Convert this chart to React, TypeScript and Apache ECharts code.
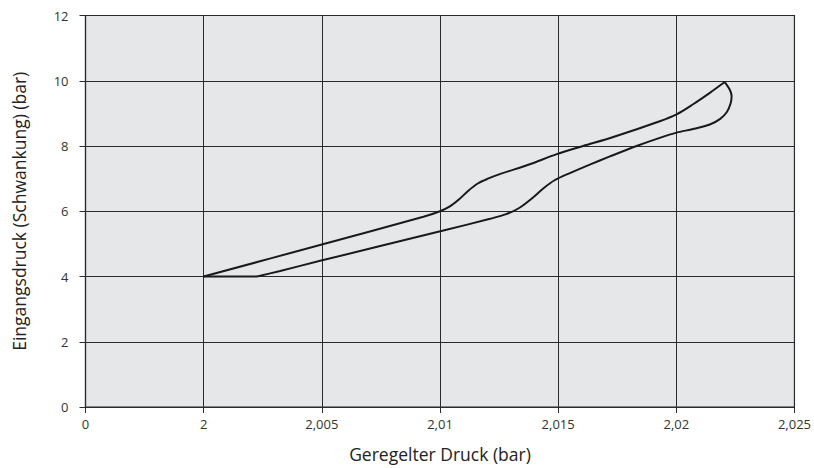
import React, { useEffect, useRef } from "react";
import * as echarts from "echarts";

// Upper branch: from start (2 bar, 4 bar) up to the tip
const upperX = [2.0, 2.005, 2.0093, 2.01, 2.0104, 2.0108, 2.0112, 2.0116, 2.012, 2.0125, 2.0138, 2.01494, 2.01606, 2.01727, 2.0193, 2.02001, 2.02071, 2.02142, 2.02205];
const upperY = [4.0, 4.98, 5.83, 6.0, 6.14, 6.36, 6.63, 6.85, 6.99, 7.13, 7.44, 7.75, 8.0, 8.26, 8.76, 8.97, 9.28, 9.63, 9.96];

// Lower branch: from the tip back down to the flat start segment
const lowerX = [2.02205, 2.02226, 2.02234, 2.0223, 2.02214, 2.02186, 2.02142, 2.02071, 2.02001, 2.0193, 2.01832, 2.01719, 2.01634, 2.0155, 2.01485, 2.01437, 2.01395, 2.01335, 2.0128, 2.01212, 2.0101, 2.00493, 2.00324, 2.00226];
const lowerY = [9.96, 9.73, 9.53, 9.31, 9.04, 8.83, 8.66, 8.52, 8.41, 8.25, 8.0, 7.68, 7.43, 7.17, 6.95, 6.7, 6.43, 6.1, 5.91, 5.77, 5.4, 4.48, 4.17, 4.0];

// Flat segment at 4 bar
const flatX = [2.00226, 2.0];
const flatY = [4.0, 4.0];

const xTickLabels: Record<string, string> = {
  "1.995": "0",
  "2": "2",
  "2.005": "2,005",
  "2.01": "2,01",
  "2.015": "2,015",
  "2.02": "2,02",
  "2.025": "2,025",
};

const xName = "Geregelter Druck (bar)";
const yName = "Eingangsdruck (Schwankung) (bar)";

const FONT = "'Open Sans', 'DejaVu Sans', sans-serif";

export default function App() {
  const ref = useRef<HTMLDivElement>(null);

  useEffect(() => {
    if (!ref.current) return;
    const chart = echarts.init(ref.current, undefined, { renderer: "svg" });
    const zip = (xs: number[], ys: number[]) => xs.map((x, i) => [x, ys[i]]);
    const lineStyle = { color: "#1a1a1a", width: 2 };
    chart.setOption({
      animation: false,
      backgroundColor: "#ffffff",
      grid: {
        left: 85.5,
        right: 19,
        top: 15.5,
        bottom: 60,
        show: true,
        backgroundColor: "#e6e7e9",
        borderColor: "#2b2b2b",
        borderWidth: 1.2,
      },
      xAxis: {
        type: "value",
        min: 1.995,
        max: 2.025,
        interval: 0.005,
        name: xName,
        nameLocation: "middle",
        nameGap: 38,
        nameTextStyle: { fontFamily: FONT, fontSize: 17.5, color: "#222" },
        axisLine: { show: true, onZero: false, lineStyle: { color: "#2b2b2b", width: 1.2 } },
        axisTick: { show: true, length: 6, lineStyle: { color: "#2b2b2b" } },
        axisLabel: {
          fontFamily: FONT,
          fontSize: 13,
          color: "#333",
          margin: 10,
          formatter: (v: number) => {
            const key = String(Number(v.toFixed(3)));
            return xTickLabels[key] ?? key.replace(".", ",");
          },
        },
        splitLine: { show: true, lineStyle: { color: "#2b2b2b", width: 1 } },
      },
      yAxis: {
        type: "value",
        min: 0,
        max: 12,
        interval: 2,
        name: yName,
        nameLocation: "middle",
        nameGap: 58,
        nameTextStyle: { fontFamily: FONT, fontSize: 17.5, color: "#222" },
        axisLine: { show: true, lineStyle: { color: "#2b2b2b", width: 1.2 } },
        axisTick: { show: true, length: 6, lineStyle: { color: "#2b2b2b" } },
        axisLabel: { fontFamily: FONT, fontSize: 13, color: "#333", margin: 17 },
        splitLine: { show: true, lineStyle: { color: "#2b2b2b", width: 1 } },
      },
      series: [
        { type: "line", data: zip(upperX, upperY), smooth: 0.3, showSymbol: false, lineStyle },
        { type: "line", data: zip(lowerX, lowerY), smooth: 0.3, showSymbol: false, lineStyle },
        { type: "line", data: zip(flatX, flatY), smooth: false, showSymbol: false, lineStyle },
      ],
    });
    return () => chart.dispose();
  }, []);

  return (
    <div
      ref={ref}
      style={{ position: "fixed", left: 0, top: 0, width: 814, height: 468 }}
    />
  );
}
